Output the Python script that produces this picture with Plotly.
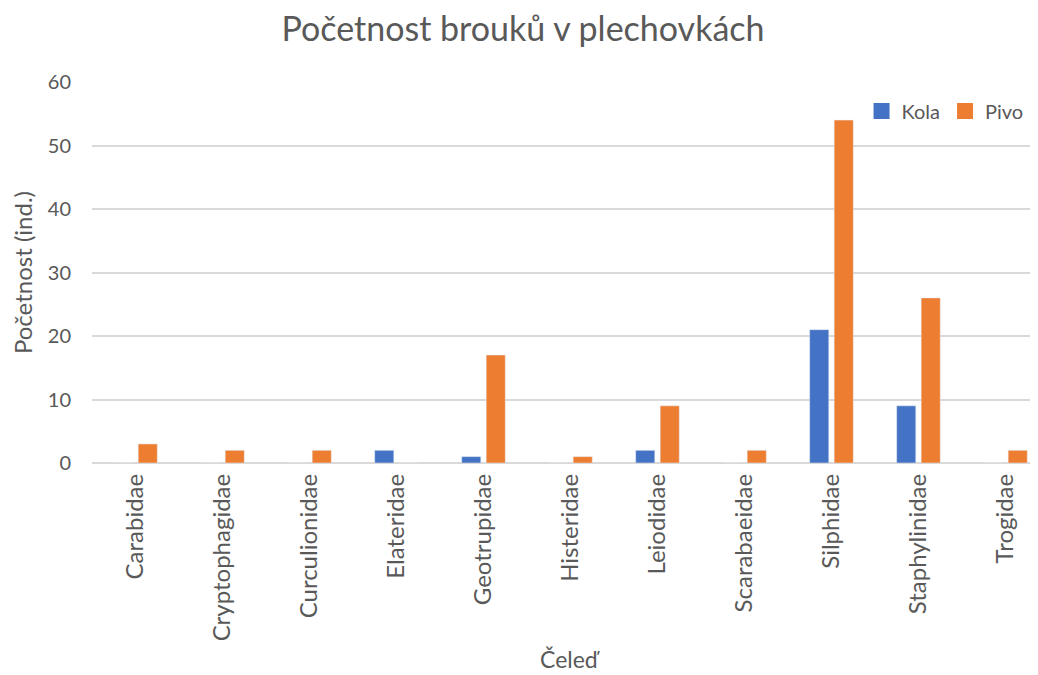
import plotly.graph_objects as go

families = [
    "Carabidae", "Cryptophagidae", "Curculionidae", "Elateridae", "Geotrupidae",
    "Histeridae", "Leiodidae", "Scarabaeidae", "Silphidae", "Staphylinidae", "Trogidae",
]
kola = [0, 0, 0, 2, 1, 0, 2, 0, 21, 9, 0]
pivo = [3, 2, 2, 0, 17, 1, 9, 2, 54, 26, 2]

font = "Lato, Open Sans, sans-serif"
text_color = "#595959"
colors = {"Kola": "#4472C4", "Pivo": "#ED7D31"}

fig = go.Figure()
for name, values in (("Kola", kola), ("Pivo", pivo)):
    fig.add_trace(go.Bar(x=families, y=values, name=name, marker=dict(color=colors[name]), showlegend=False))
    # legend-only entry so the key gets a bigger square swatch
    fig.add_trace(
        go.Scatter(
            x=[None],
            y=[None],
            mode="markers",
            name=name,
            marker=dict(symbol="square", size=17, color=colors[name], line=dict(width=0)),
        )
    )

fig.update_layout(
    width=1030,
    height=667,
    plot_bgcolor="white",
    paper_bgcolor="white",
    font=dict(family=font, color=text_color, size=20),
    title=dict(
        text="Početnost brouků v plechovkách",
        x=0.5,
        xanchor="center",
        y=0.968,
        yanchor="middle",
        font=dict(size=34, color=text_color),
    ),
    barmode="group",
    bargap=0.437,
    bargroupgap=0.22,
    margin=dict(l=84, r=0, t=74, b=212),
    legend=dict(
        orientation="h",
        x=0.99,
        xanchor="right",
        y=0.924,
        yanchor="middle",
        font=dict(size=20, color=text_color),
        itemwidth=30,
        bgcolor="rgba(0,0,0,0)",
    ),
    xaxis=dict(
        range=[-0.5, 10.374],
        tickangle=-90,
        showgrid=False,
        showline=False,
        ticks="",
        automargin=False,
        ticklabelstandoff=5,
        tickfont=dict(size=24, color=text_color),
    ),
    yaxis=dict(
        title=dict(text="Početnost (ind.)", font=dict(size=24, color=text_color), standoff=14),
        range=[0, 60],
        dtick=10,
        showgrid=True,
        gridcolor="#D9D9D9",
        gridwidth=1.5,
        zeroline=True,
        zerolinecolor="#D9D9D9",
        zerolinewidth=1.5,
        ticks="",
        automargin=False,
        ticklabelstandoff=20,
        tickfont=dict(size=20, color=text_color),
    ),
    annotations=[
        dict(
            text="Čeleď",
            x=5,
            xref="x",
            y=-0.515,
            yref="paper",
            xanchor="center",
            yanchor="middle",
            showarrow=False,
            font=dict(size=23, color=text_color),
        )
    ],
)

fig.write_html("out.html")
